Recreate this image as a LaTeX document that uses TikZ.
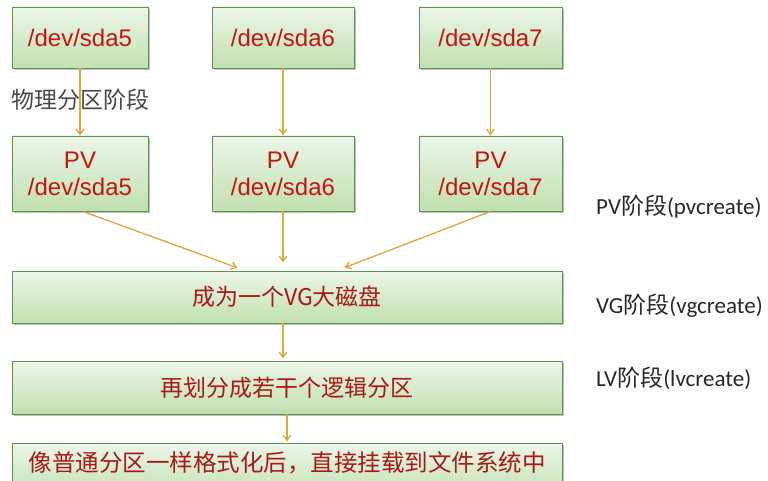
\documentclass[tikz,border=0pt]{standalone}
\usepackage{fontspec}
\setmainfont{Liberation Sans}
\newfontfamily\cjk{Noto Sans CJK SC}
\newfontfamily\calfont{Carlito}
\usetikzlibrary{arrows.meta,shadows}

\definecolor{boxtop}{RGB}{236,246,232}
\definecolor{boxbot}{RGB}{192,224,176}
\definecolor{boxline}{RGB}{96,146,80}
\definecolor{devred}{RGB}{196,20,20}
\definecolor{cjkred}{RGB}{170,24,24}
\definecolor{arrowgold}{RGB}{214,170,60}
\definecolor{labelgray}{RGB}{40,40,40}

\tikzset{
  greenbox/.style={draw=boxline, line width=0.9pt, top color=boxtop, bottom color=boxbot,
    drop shadow={shadow xshift=1.6pt, shadow yshift=-1.6pt, opacity=0.25, fill=black},
    inner sep=0pt, align=center},
  devtext/.style={text=devred, font=\fontsize{24}{27}\selectfont},
  cjktext/.style={text=cjkred, font=\cjk\fontsize{23}{27}\selectfont},
  flow/.style={draw=arrowgold, line width=1.3pt, -{Straight Barb[angle=70:6.5pt]}},
  stage/.style={text=labelgray, anchor=west, inner sep=0pt, font=\calfont\fontsize{23}{27}\selectfont},
}

\begin{document}
\begin{tikzpicture}[x=1pt, y=-1pt]
  \useasboundingbox[fill=white] (0,0) rectangle (768,481);

  % physical partitions
  \node[greenbox, devtext, minimum width=136pt, minimum height=61pt] (s5) at (80,37.5) {/dev/sda5};
  \node[greenbox, devtext, minimum width=142pt, minimum height=61pt] (s6) at (283,37.5) {/dev/sda6};
  \node[greenbox, devtext, minimum width=143pt, minimum height=61pt] (s7) at (490.5,37.5) {/dev/sda7};

  % physical volumes
  \node[greenbox, devtext, minimum width=136pt, minimum height=75pt] (p5) at (80,173.5) {PV\\/dev/sda5};
  \node[greenbox, devtext, minimum width=142pt, minimum height=75pt] (p6) at (283,173.5) {PV\\/dev/sda6};
  \node[greenbox, devtext, minimum width=143pt, minimum height=75pt] (p7) at (490.5,173.5) {PV\\/dev/sda7};

  % volume group, logical volumes, mount step
  \node[greenbox, cjktext, minimum width=550pt, minimum height=52pt] (vg) at (287,297)
    {成为一个VG大磁盘};
  \node[greenbox, cjktext, minimum width=550pt, minimum height=53pt] (lv) at (287,387.5)
    {再划分成若干个逻辑分区};
  \node[greenbox, minimum width=550pt, minimum height=56pt] (fs) at (287,471) {};
  \node[cjktext, inner sep=0pt, font=\cjk\fontsize{23.5}{28}\selectfont] (fstext) at (287,463)
    {像普通分区一样格式化后，直接挂载到文件系统中};

  % stage labels
  \node[text=labelgray!85, inner sep=0pt, font=\cjk\fontsize{23}{26}\selectfont] (phys) at (80,100) {物理分区阶段};
  \node[stage] (pvstage) at (596,207) {PV{\cjk 阶段}(pvcreate)};
  \node[stage] (vgstage) at (596,306) {VG{\cjk 阶段}(vgcreate)};
  \node[stage] (lvstage) at (596,378) {LV{\cjk 阶段}(lvcreate)};

  % connectors
  \draw[flow] (s5) -- (p5);
  \draw[flow] (s6) -- (p6);
  \draw[flow] (s7) -- (p7);
  \draw[flow, shorten >=8pt] ([xshift=3pt]p5.south) -- ([xshift=-42pt]vg.north);
  \draw[flow, shorten >=8pt] (p6.south) -- (p6.south |- vg.north);
  \draw[flow, shorten >=8pt] (p7.south) -- ([xshift=50pt]vg.north);
  \draw[flow, shorten >=2pt] ([xshift=-4pt]vg.south) -- ([xshift=-4pt]lv.north);
  \draw[flow, shorten >=1pt] (lv) -- (fs);
\end{tikzpicture}
\end{document}
